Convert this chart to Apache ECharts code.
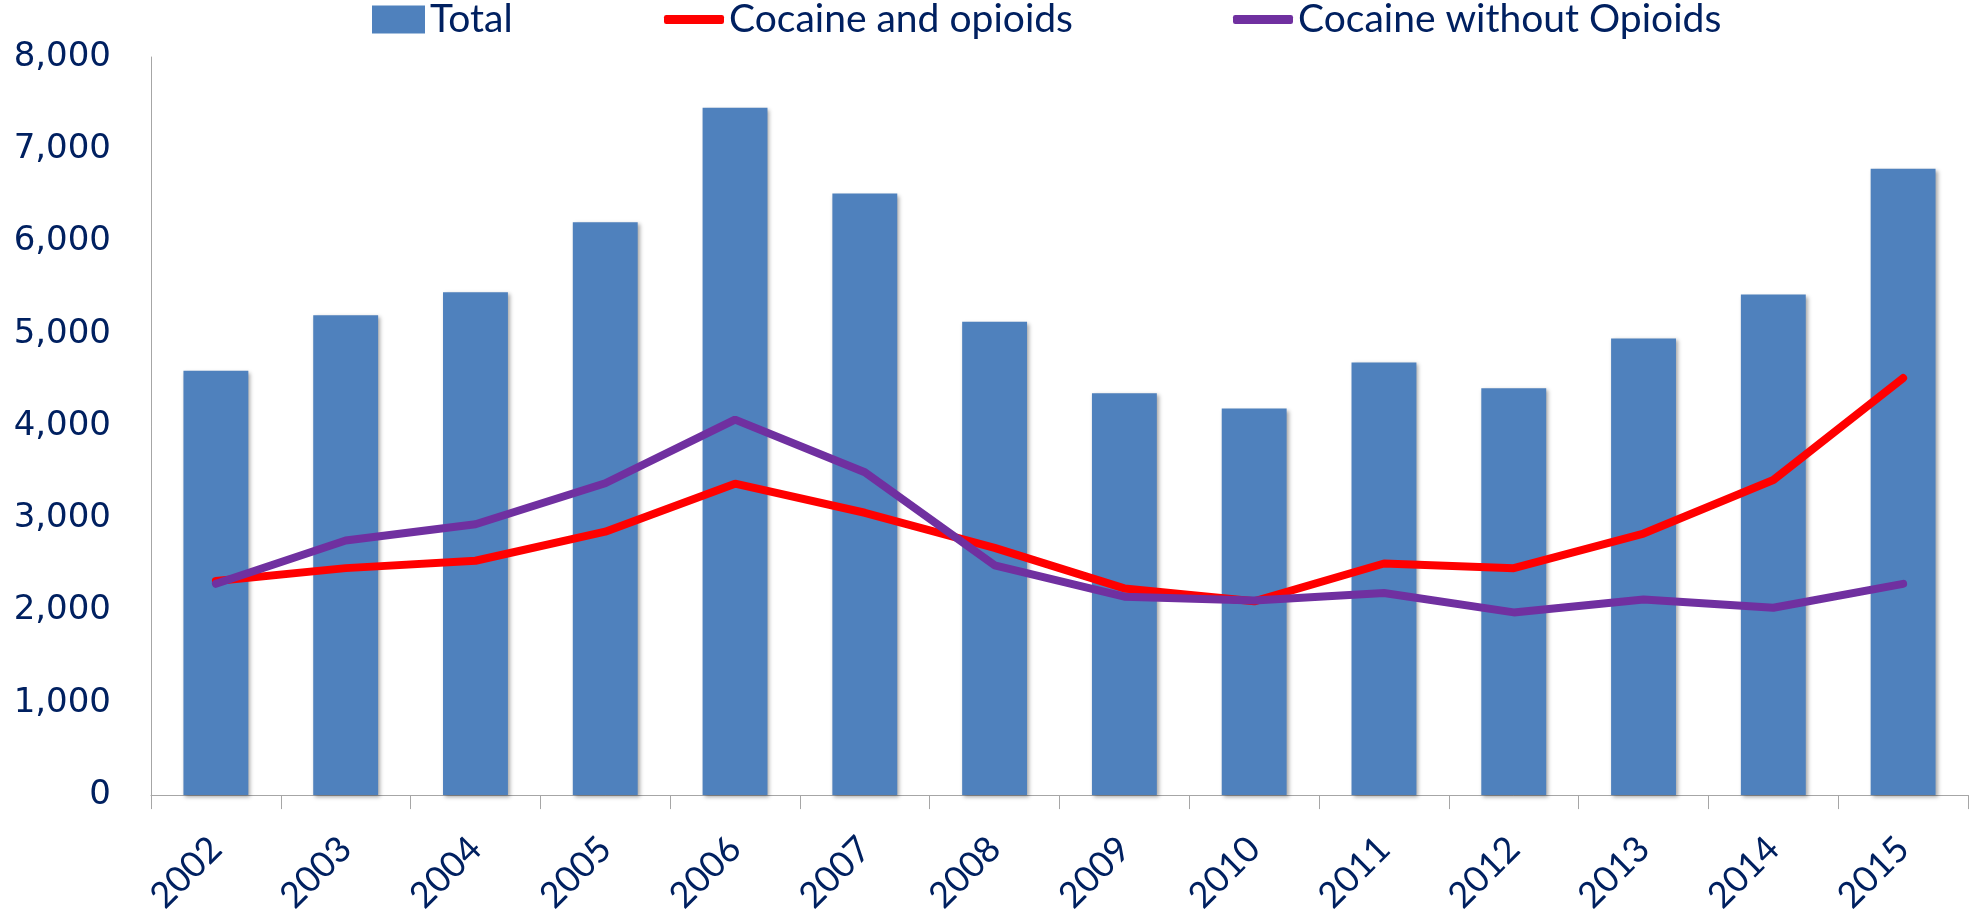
<!DOCTYPE html>
<html>
<head>
<meta charset="utf-8">
<script src="https://cdn.jsdelivr.net/npm/echarts@6/dist/echarts.min.js"></script>
<style>html,body{margin:0;padding:0;background:#fff;}#c{width:1972px;height:917px;}</style>
</head>
<body>
<div id="c"></div>
<script>
const years = ['2002','2003','2004','2005','2006','2007','2008','2009','2010','2011','2012','2013','2014','2015'];
const total = [4600, 5200, 5450, 6210, 7450, 6520, 5130, 4355, 4190, 4690, 4410, 4950, 5425, 6790];
const cocaineAndOpioids = [2320, 2460, 2540, 2855, 3375, 3060, 2680, 2240, 2100, 2510, 2460, 2835, 3415, 4520];
const cocaineWithoutOpioids = [2290, 2760, 2935, 3380, 4070, 3500, 2490, 2150, 2110, 2190, 1980, 2120, 2030, 2290];
const yTicks = [0, 1000, 2000, 3000, 4000, 5000, 6000, 7000, 8000];

const textColor = '#002060';
const legendText = {color: textColor, fontFamily: 'Lato', fontSize: 39};
const chart = echarts.init(document.getElementById('c'));
chart.setOption({
  animation: false,
  backgroundColor: '#ffffff',
  legend: [
    {data: ['Total'], left: 372, top: 0, padding: 0, icon: 'rect', itemWidth: 53, itemHeight: 28, textStyle: legendText},
    {data: ['Cocaine and opioids'], left: 664, top: 0, padding: 0, icon: 'roundRect', itemWidth: 60, itemHeight: 9, textStyle: legendText},
    {data: ['Cocaine without Opioids'], left: 1233, top: 0, padding: 0, icon: 'roundRect', itemWidth: 60, itemHeight: 9, textStyle: legendText}
  ],
  grid: {left: 151, right: 4, top: 57, bottom: 118, containLabel: false},
  xAxis: {
    type: 'category',
    data: years,
    boundaryGap: true,
    axisLine: {lineStyle: {color: '#A6A6A6', width: 1}},
    axisTick: {show: true, length: 14, lineStyle: {color: '#A6A6A6'}},
    axisLabel: {rotate: 45, margin: 48, color: textColor, fontFamily: 'Lato', fontSize: 36, interval: 0},
    splitLine: {show: false}
  },
  yAxis: {
    type: 'value',
    min: yTicks[0],
    max: yTicks[yTicks.length - 1],
    interval: 1000,
    axisLine: {show: true, lineStyle: {color: '#A6A6A6', width: 1}},
    axisTick: {show: false},
    splitLine: {show: false},
    axisLabel: {
      margin: 40, color: textColor, fontFamily: 'DejaVu Sans', fontSize: 34,
      formatter: v => v.toLocaleString('en-US')
    }
  },
  series: [
    {
      name: 'Total', type: 'bar', data: total, barWidth: '50%',
      itemStyle: {color: '#4F81BD', shadowBlur: 4, shadowColor: 'rgba(0,0,0,0.35)', shadowOffsetX: 2, shadowOffsetY: 2}
    },
    {
      name: 'Cocaine and opioids', type: 'line', data: cocaineAndOpioids, showSymbol: false, symbol: 'none',
      itemStyle: {color: '#FF0000'},
      lineStyle: {color: '#FF0000', width: 8, cap: 'round'}
    },
    {
      name: 'Cocaine without Opioids', type: 'line', data: cocaineWithoutOpioids, showSymbol: false, symbol: 'none',
      itemStyle: {color: '#7030A0'},
      lineStyle: {color: '#7030A0', width: 8, cap: 'round'}
    }
  ]
});
</script>
</body>
</html>
